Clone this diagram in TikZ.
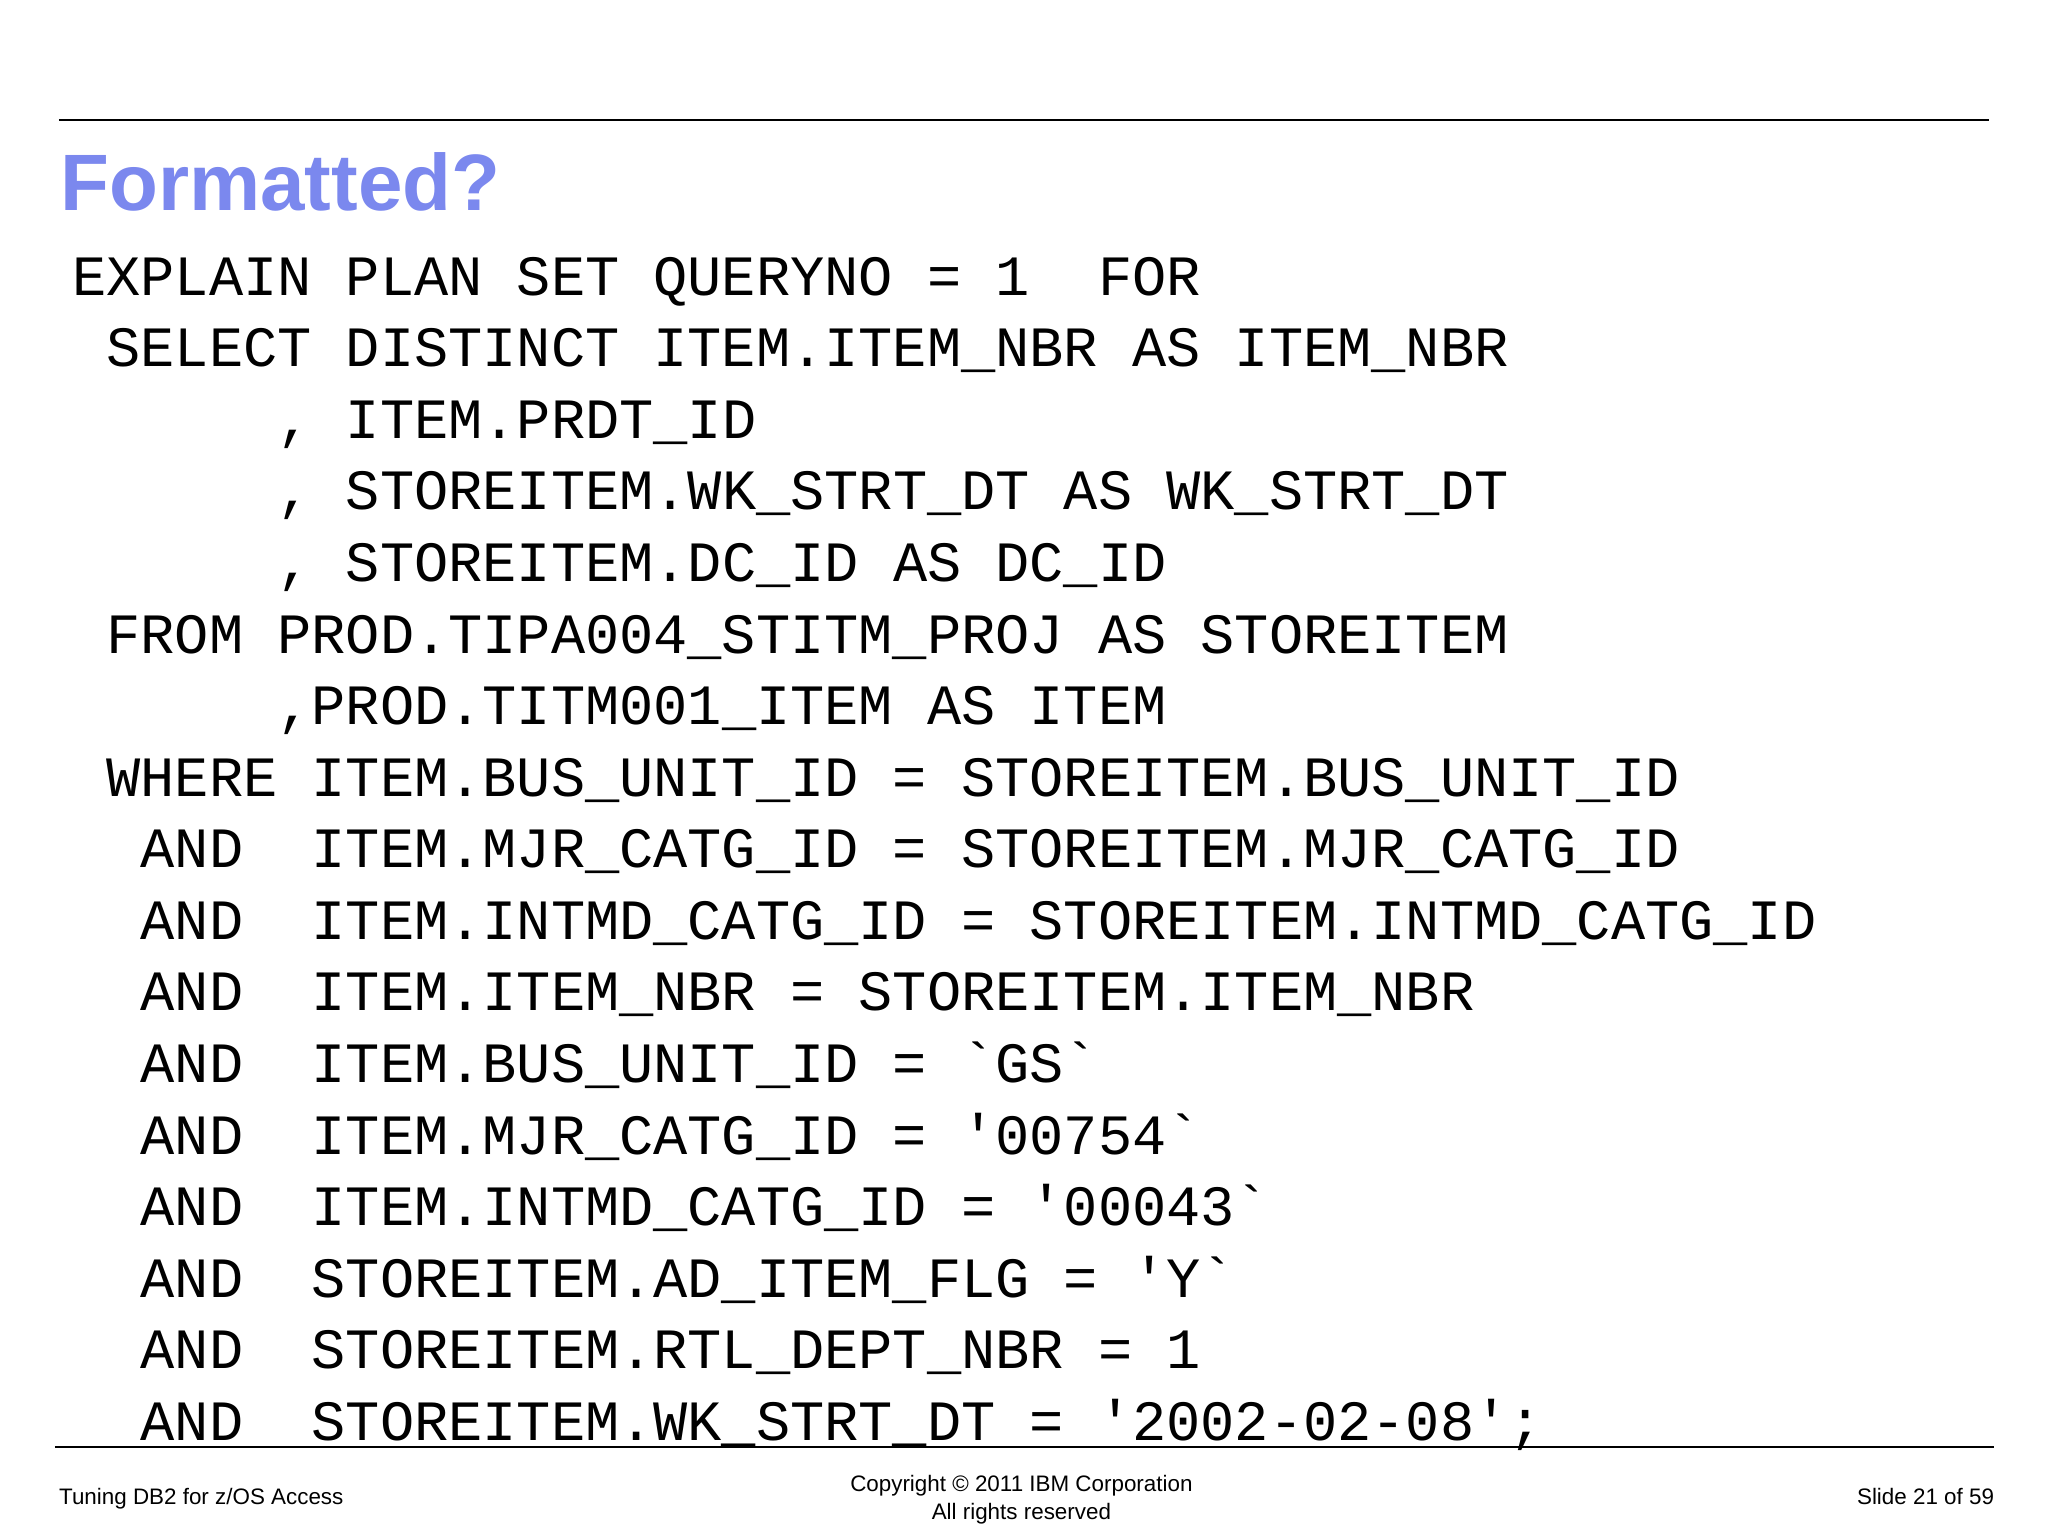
\documentclass[tikz,border=0pt]{standalone}
\usepackage{fontspec}
\setmainfont{Liberation Sans}
\setmonofont{Liberation Mono}
\definecolor{titleblue}{HTML}{7B88EE}
\begin{document}
\begin{tikzpicture}[x=0.6531pt,y=-0.6531pt,
  codeline/.style={anchor=base west,inner sep=0pt,font=\ttfamily\fontsize{28.5pt}{30pt}\selectfont},
  foot/.style={inner sep=0pt,font=\fontsize{11.2pt}{13.5pt}\selectfont}]
\useasboundingbox (0,0) rectangle (1568,1174);
\draw[line width=0.9pt] (45,92) -- (1523,92);
\draw[line width=0.9pt] (42,1108) -- (1527,1108);
\node[anchor=base west,inner sep=0pt,text=titleblue,font=\bfseries\fontsize{40pt}{46pt}\selectfont] (title) at (46,161) {Formatted?};
\foreach \t [count=\i from 0] in {
{EXPLAIN~PLAN~SET~QUERYNO~=~1~~FOR},
{~SELECT~DISTINCT~ITEM.ITEM\_NBR~AS~ITEM\_NBR},
{~~~~~~,~ITEM.PRDT\_ID},
{~~~~~~,~STOREITEM.WK\_STRT\_DT~AS~WK\_STRT\_DT},
{~~~~~~,~STOREITEM.DC\_ID~AS~DC\_ID},
{~FROM~PROD.TIPA004\_STITM\_PROJ~AS~STOREITEM},
{~~~~~~,PROD.TITM001\_ITEM~AS~ITEM},
{~WHERE~ITEM.BUS\_UNIT\_ID~=~STOREITEM.BUS\_UNIT\_ID},
{~~AND~~ITEM.MJR\_CATG\_ID~=~STOREITEM.MJR\_CATG\_ID},
{~~AND~~ITEM.INTMD\_CATG\_ID~=~STOREITEM.INTMD\_CATG\_ID},
{~~AND~~ITEM.ITEM\_NBR~=~STOREITEM.ITEM\_NBR},
{~~AND~~ITEM.BUS\_UNIT\_ID~=~`GS`},
{~~AND~~ITEM.MJR\_CATG\_ID~=~'00754`},
{~~AND~~ITEM.INTMD\_CATG\_ID~=~'00043`},
{~~AND~~STOREITEM.AD\_ITEM\_FLG~=~'Y`},
{~~AND~~STOREITEM.RTL\_DEPT\_NBR~=~1},
{~~AND~~STOREITEM.WK\_STRT\_DT~=~'2002-02-08';}}
  \node[codeline] (l\i) at (55,{226+54.8*\i}) {\t};
\node[foot,anchor=base west] (fl) at (45,1152) {Tuning DB2 for z/OS Access};
\node[foot,anchor=base] (fc1) at (782,1142) {Copyright © 2011 IBM Corporation};
\node[foot,anchor=base] (fc2) at (782,1163) {All rights reserved};
\node[foot,anchor=base east] (fr) at (1527,1152) {Slide 21 of 59};
\end{tikzpicture}
\end{document}
